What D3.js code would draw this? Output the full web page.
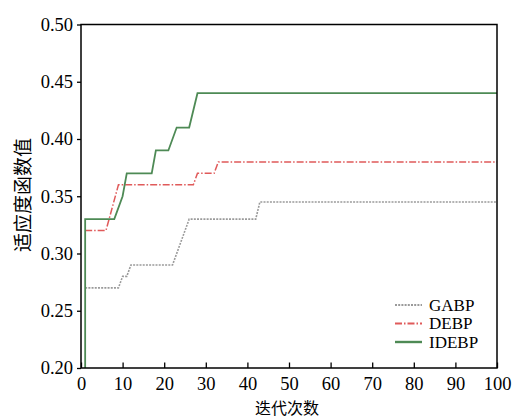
<!DOCTYPE html>
<html>
<head>
<meta charset="utf-8">
<script src="https://cdn.jsdelivr.net/npm/d3@7"></script>
<style>
  body { margin: 0; background: #fff; }
  text { font-family: "Liberation Serif", "DejaVu Serif", serif; }
  .cjk { font-family: "Noto Sans CJK SC", sans-serif; }
</style>
</head>
<body>
<svg id="chart" width="513" height="419"></svg>
<script>
var width = 513,
    height = 419;

var margin = {top: 24.5, right: 16, bottom: 51, left: 81};

// iteration / fitness breakpoints
var gabp = [[1, 0.27], [9, 0.27], [10, 0.28], [11, 0.28], [12, 0.29], [22, 0.29],
            [26, 0.33], [42, 0.33], [43, 0.345], [100, 0.345]];
var debp = [[1, 0.32], [6, 0.32], [9, 0.36], [27, 0.36], [28, 0.37], [32, 0.37],
            [33, 0.38], [100, 0.38]];
var idebp = [[1, 0.20], [1, 0.33], [8, 0.33], [10, 0.35], [11, 0.37], [17, 0.37],
             [18, 0.39], [21, 0.39], [23, 0.41], [26, 0.41], [28, 0.44], [100, 0.44]];

var seriesNames = ["GABP", "DEBP", "IDEBP"];
var xTicks = [0, 10, 20, 30, 40, 50, 60, 70, 80, 90, 100];
var yTicks = [0.20, 0.25, 0.30, 0.35, 0.40, 0.45, 0.50];

var styles = [
  {stroke: "#9a9a9a", dash: "2,1.2", w: 1.6},
  {stroke: "#e05a5a", dash: "7,2,1.5,2", w: 1.5},
  {stroke: "#4e8a55", dash: null, w: 1.8}
];

var svg = d3.select("#chart");

var x = d3.scaleLinear().domain([0, 100]).range([margin.left, width - margin.right]);
var y = d3.scaleLinear().domain([0.20, 0.50]).range([height - margin.bottom, margin.top]);

var g = svg.append("g");

// x axis (ticks point into the plot)
var xAxis = g.append("g")
    .attr("transform", "translate(0," + y(0.20) + ")")
    .call(d3.axisBottom(x).tickValues(xTicks).tickSizeInner(-5.5).tickSizeOuter(0).tickPadding(9));

// y axis (ticks outside)
var yAxis = g.append("g")
    .attr("transform", "translate(" + x(0) + ",0)")
    .call(d3.axisLeft(y).tickValues(yTicks).tickFormat(d3.format(".2f")).tickSizeInner(4).tickSizeOuter(0).tickPadding(4));

[xAxis, yAxis].forEach(function(a) {
  a.attr("font-family", null);
  a.select(".domain").remove();
  a.selectAll("line").attr("stroke", "#000").attr("stroke-width", 1.3);
  a.selectAll("text")
    .attr("fill", "#000")
    .style("font-family", "'Liberation Serif', serif")
    .style("font-size", "18.5px");
});

// data lines
var line = d3.line()
    .x(function(d) { return x(d[0]); })
    .y(function(d) { return y(d[1]); });

[gabp, debp, idebp].forEach(function(data, i) {
  g.append("path")
    .datum(data)
    .attr("d", line)
    .attr("fill", "none")
    .attr("stroke", styles[i].stroke)
    .attr("stroke-width", styles[i].w)
    .attr("stroke-dasharray", styles[i].dash);
});

// frame
g.append("rect")
  .attr("x", x(0))
  .attr("y", y(0.50))
  .attr("width", x(100) - x(0))
  .attr("height", y(0.20) - y(0.50))
  .attr("fill", "none")
  .attr("stroke", "#000")
  .attr("stroke-width", 1.5);

// legend
var legend = g.append("g").attr("transform", "translate(395,305)");
seriesNames.forEach(function(name, i) {
  var row = legend.append("g").attr("transform", "translate(0," + (i * 18.5) + ")");
  row.append("line")
    .attr("x1", 0).attr("x2", 27)
    .attr("stroke", styles[i].stroke)
    .attr("stroke-width", i === 2 ? 2.4 : 2)
    .attr("stroke-dasharray", styles[i].dash);
  row.append("text")
    .attr("x", 34)
    .attr("dy", "0.35em")
    .style("font-size", "17px")
    .text(name);
});

// axis titles
g.append("text")
  .attr("class", "cjk")
  .attr("x", 287)
  .attr("y", 414)
  .attr("text-anchor", "middle")
  .style("font-size", "16px")
  .text("迭代次数");

g.append("text")
  .attr("class", "cjk")
  .attr("transform", "translate(30,195) rotate(-90)")
  .attr("text-anchor", "middle")
  .style("font-size", "19px")
  .text("适应度函数值");
</script>
</body>
</html>
